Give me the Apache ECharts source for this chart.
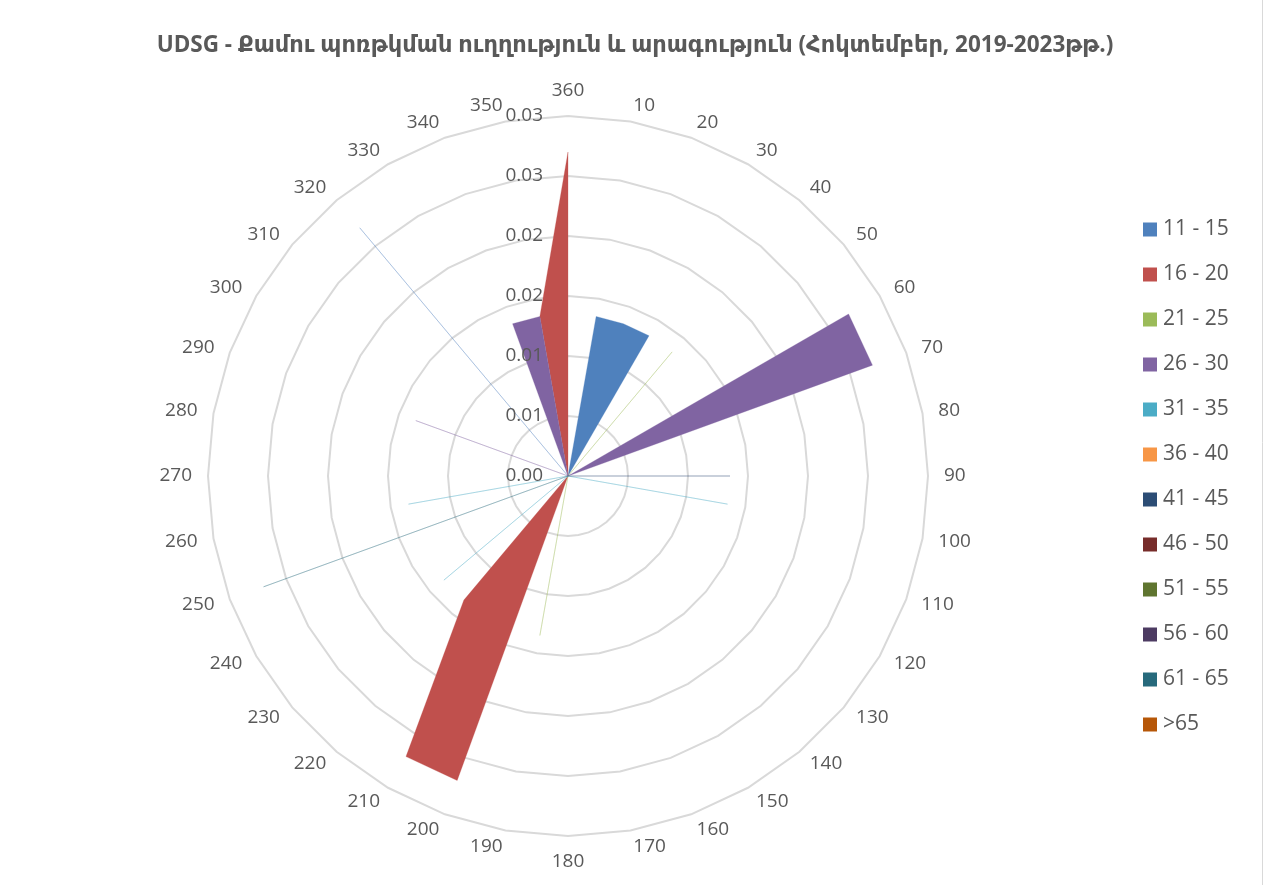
<!DOCTYPE html>
<html>
<head>
<meta charset="utf-8">
<title>UDSG wind gust rose</title>
<script src="https://cdn.jsdelivr.net/npm/echarts@6/dist/echarts.min.js"></script>
<style>
  html, body { margin: 0; padding: 0; background: #ffffff; }
  #chart { width: 1264px; height: 885px; }
</style>
</head>
<body>
<div id="chart"></div>
<script>
// Wind directions (degrees), 10..360
const directions = [10, 20, 30, 40, 50, 60, 70, 80, 90, 100, 110, 120,
  130, 140, 150, 160, 170, 180, 190, 200, 210, 220, 230, 240,
  250, 260, 270, 280, 290, 300, 310, 320, 330, 340, 350, 360];

// Speed classes
const speedClasses = ['11 - 15', '16 - 20', '21 - 25', '26 - 30', '31 - 35', '36 - 40',
  '41 - 45', '46 - 50', '51 - 55', '56 - 60', '61 - 65', '>65'];

// Relative frequency per direction (same order as directions)
const s11_15 = [0.0135, 0.0135, 0.0135, 0, 0, 0, 0, 0, 0, 0, 0, 0,
                0, 0, 0, 0, 0, 0, 0, 0, 0, 0, 0, 0,
                0, 0, 0, 0, 0, 0, 0, 0.027, 0, 0, 0, 0];
const s16_20 = [0, 0, 0, 0, 0, 0, 0, 0, 0, 0, 0, 0,
                0, 0, 0, 0, 0, 0, 0, 0.027, 0.027, 0.0135, 0, 0,
                0, 0, 0, 0, 0, 0, 0, 0, 0, 0, 0.0135, 0.027];
const s21_25 = [0, 0, 0, 0.0135, 0, 0, 0, 0, 0, 0, 0, 0,
                0, 0, 0, 0, 0, 0, 0.0135, 0, 0, 0, 0, 0,
                0, 0, 0, 0, 0, 0, 0, 0, 0, 0, 0, 0];
const s26_30 = [0, 0, 0, 0, 0, 0.027, 0.027, 0, 0, 0, 0, 0,
                0, 0, 0, 0, 0, 0, 0, 0, 0, 0, 0, 0,
                0, 0, 0, 0, 0.0135, 0, 0, 0, 0, 0.0135, 0.0135, 0];
const s31_35 = [0, 0, 0, 0, 0, 0, 0, 0, 0, 0.0135, 0, 0,
                0, 0, 0, 0, 0, 0, 0, 0, 0, 0, 0.0135, 0,
                0, 0.0135, 0, 0, 0, 0, 0, 0, 0, 0, 0, 0];
const s36_40 = new Array(36).fill(0);
const s41_45 = [0, 0, 0, 0, 0, 0, 0, 0, 0.0135, 0, 0, 0,
                0, 0, 0, 0, 0, 0, 0, 0, 0, 0, 0, 0,
                0, 0, 0, 0, 0, 0, 0, 0, 0, 0, 0, 0];
const s46_50 = new Array(36).fill(0);
const s51_55 = new Array(36).fill(0);
const s56_60 = new Array(36).fill(0);
const s61_65 = [0, 0, 0, 0, 0, 0, 0, 0, 0, 0, 0, 0,
                0, 0, 0, 0, 0, 0, 0, 0, 0, 0, 0, 0,
                0.027, 0, 0, 0, 0, 0, 0, 0, 0, 0, 0, 0];
const sOver65 = new Array(36).fill(0);

const seriesValues = [s11_15, s16_20, s21_25, s26_30, s31_35, s36_40,
  s41_45, s46_50, s51_55, s56_60, s61_65, sOver65];

const palette = ['#4F81BD', '#C0504D', '#9BBB59', '#8064A2', '#4BACC6', '#F79646',
  '#2C4D75', '#772C2A', '#5F7530', '#4D3B62', '#276A7C', '#B65708'];

const FONT = '"Open Sans", "DejaVu Sans", sans-serif';
const TEXT = '#595959';

// The radar runs counter-clockwise, so list directions from 360 downwards
// to get a clockwise compass with 360 at the top.
const order = directions.slice().reverse();

// Two-decimal value labels, rounding halves upwards (0.005 -> 0.01, 0.015 -> 0.02)
function roundLabel(v) {
  const thousandths = Math.round(v * 1000);
  return (Math.round(thousandths / 10) / 100).toFixed(2);
}

// Grid radar: rings and compass names, drawn beneath the series
const gridIndicators = order.map(function (d) {
  return { name: String(d), min: 0, max: 0.03 };
});

// Label radar: same geometry, only the value labels on the 360 axis, drawn above the series
const labelIndicators = order.map(function (d, i) {
  const ind = { name: String(d), min: 0, max: 0.03 };
  if (i === 0) {
    ind.axisLabel = {
      show: true,
      color: TEXT,
      fontFamily: FONT,
      fontSize: 19,
      margin: 25,
      formatter: roundLabel
    };
  }
  return ind;
});

const series = speedClasses.map(function (name, k) {
  const vals = order.map(function (d) { return seriesValues[k][directions.indexOf(d)]; });
  return {
    type: 'radar',
    radarIndex: 0,
    name: name,
    symbol: 'none',
    silent: true,
    itemStyle: { color: palette[k] },
    lineStyle: { color: palette[k], width: 0.8, opacity: 0.35 },
    areaStyle: { color: palette[k], opacity: 1 },
    data: [{ value: vals, name: name }]
  };
});

const chart = echarts.init(document.getElementById('chart'), null, { renderer: 'canvas' });
chart.setOption({
  backgroundColor: '#ffffff',
  animation: false,
  color: palette,
  title: {
    text: 'UDSG - Քամու պոռթկման ուղղություն և արագություն (Հոկտեմբեր, 2019-2023թթ.)',
    left: 630,
    textAlign: 'center',
    top: 29,
    textStyle: { color: TEXT, fontFamily: FONT, fontSize: 22.5, fontWeight: 'bold' }
  },
  legend: {
    orient: 'vertical',
    left: 1143,
    top: 219,
    padding: 0,
    itemWidth: 14,
    itemHeight: 14,
    itemGap: 24,
    icon: 'rect',
    textStyle: { color: TEXT, fontFamily: FONT, fontSize: 21, padding: [0, 0, 0, 1] },
    data: speedClasses
  },
  radar: [{
    center: [568, 476],
    radius: 360,
    startAngle: 90,
    shape: 'polygon',
    splitNumber: 6,
    nameGap: 16,
    axisName: { color: TEXT, fontFamily: FONT, fontSize: 19 },
    axisLine: { show: false },
    axisTick: { show: false },
    axisLabel: { show: false },
    splitArea: { show: false },
    splitLine: { lineStyle: { color: '#d9d9d9', width: 2 } },
    indicator: gridIndicators
  }, {
    center: [568, 476],
    radius: 360,
    startAngle: 90,
    shape: 'polygon',
    splitNumber: 6,
    z: 10,
    axisName: { show: false },
    axisLine: { show: false },
    axisTick: { show: false },
    axisLabel: { show: false },
    splitArea: { show: false },
    splitLine: { show: false },
    indicator: labelIndicators
  }],
  graphic: [{
    type: 'line',
    shape: { x1: 1262.5, y1: 0, x2: 1262.5, y2: 885 },
    style: { stroke: '#d9d9d9', lineWidth: 1 }
  }],
  series: series
});
</script>
</body>
</html>
